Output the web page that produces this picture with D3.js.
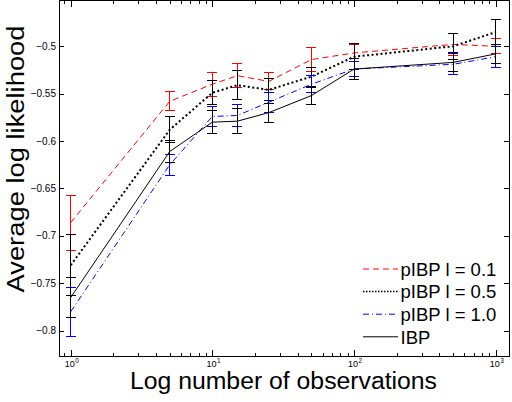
<!DOCTYPE html>
<html>
<head>
  <meta charset="UTF-8">
  <title>Average log likelihood vs observations</title>
  <style>
    body { margin: 0; background: #fff; overflow: hidden; }
    svg { font-family: "Liberation Sans", Arial, sans-serif; }
    .frame line, .frame rect { shape-rendering: crispEdges; }
  </style>
</head>
<body>
<svg id="chart"></svg>
<script src="https://d3js.org/d3.v7.min.js"></script>
<script>
// observations (x) and the four series
const obs = [1, 5, 10, 15, 25, 50, 100, 500, 1000];

const meanP01 = [-0.686, -0.558, -0.540, -0.531, -0.537, -0.514, -0.507, -0.498, -0.500];
const errP01  = [0.029, 0.010, 0.0125, 0.0125, 0.009, 0.0125, 0.009, 0.0115, 0.008];

const meanP05 = [-0.731, -0.588, -0.549, -0.541, -0.546, -0.532, -0.511, -0.500, -0.485];
const errP05  = [0.032, 0.014, 0.0125, 0.015, 0.0115, 0.010, 0.0135, 0.0135, 0.013];

const meanP10 = [-0.780, -0.625, -0.574, -0.573, -0.559, -0.540, -0.524, -0.519, -0.511];
const errP10  = [0.026, 0.011, 0.011, 0.0115, 0.0105, 0.009, 0.008, 0.011, 0.011];

const meanIBP = [-0.765, -0.611, -0.580, -0.579, -0.570, -0.552, -0.524, -0.517, -0.508];
const errIBP  = [0.021, 0.012, 0.012, 0.0135, 0.010, 0.009, 0.0115, 0.010, 0.010];

const seriesNames = ["pIBP l = 0.1", "pIBP l = 0.5", "pIBP l = 1.0", "IBP"];

// axis limits and ticks
const xLim = [0.827, 1245];
const yLim = [-0.8267, -0.4517];
const xMajor = [1, 10, 100, 1000];
const xExp = ["0", "1", "2", "3"];
const yTicks = [-0.8, -0.75, -0.7, -0.65, -0.6, -0.55, -0.5];

const width = 512, height = 402;
const box = { left: 59, right: 509.3, top: 0.5, bottom: 356 };

const svg = d3.select("#chart").attr("width", width).attr("height", height);

const x = d3.scaleLog().domain(xLim).range([box.left, box.right]);
const y = d3.scaleLinear().domain(yLim).range([box.bottom, box.top]);

const series = [
  { name: seriesNames[0], mean: meanP01, err: errP01, color: "#ff0000", bar: "#ff0000", dash: "6,4", w: 1 },
  { name: seriesNames[1], mean: meanP05, err: errP05, color: "#000000", bar: "#000000", dash: "2,2.5", w: 2 },
  { name: seriesNames[2], mean: meanP10, err: errP10, color: "#0000ff", bar: "#0000ff", dash: "6,3,1,3", w: 1 },
  { name: seriesNames[3], mean: meanIBP, err: errIBP, color: "#000000", bar: "#000000", dash: null, w: 1 }
];

// frame and ticks
const frame = svg.append("g").attr("class", "frame");
frame.append("rect")
  .attr("x", box.left).attr("y", box.top)
  .attr("width", box.right - box.left).attr("height", box.bottom - box.top)
  .attr("fill", "none").attr("stroke", "#000");

const minor = [];
[0.1, 1, 10, 100, 1000].forEach(d => {
  for (let k = 2; k <= 9; k++) {
    const v = d * k;
    if (v > xLim[0] && v < xLim[1]) minor.push(v);
  }
});

[[box.bottom, -1], [box.top, 1]].forEach(([yy, dir]) => {
  frame.selectAll(null).data(xMajor).enter().append("line")
    .attr("x1", d => Math.round(x(d)) + 0.5).attr("x2", d => Math.round(x(d)) + 0.5)
    .attr("y1", yy).attr("y2", yy + dir * 6).attr("stroke", "#000");
  frame.selectAll(null).data(minor).enter().append("line")
    .attr("x1", d => Math.round(x(d)) + 0.5).attr("x2", d => Math.round(x(d)) + 0.5)
    .attr("y1", yy).attr("y2", yy + dir * 3.5).attr("stroke", "#000");
});

[[box.left, 1], [box.right, -1]].forEach(([xx, dir]) => {
  frame.selectAll(null).data(yTicks).enter().append("line")
    .attr("x1", xx).attr("x2", xx + dir * 5)
    .attr("y1", d => Math.round(y(d)) + 0.5).attr("y2", d => Math.round(y(d)) + 0.5)
    .attr("stroke", "#000");
});

// tick labels
svg.append("g").selectAll("text").data(yTicks).enter().append("text")
  .attr("x", box.left - 3).attr("y", d => y(d) + 3.5)
  .attr("text-anchor", "end").attr("font-size", 10)
  .text(d => "\u2212" + String(Math.abs(d)));

const xl = svg.append("g").selectAll("g").data(xMajor).enter().append("g")
  .attr("transform", d => `translate(${x(d)},367)`);
xl.append("text").attr("x", -1).attr("text-anchor", "middle").attr("font-size", 9).text("10");
xl.append("text").attr("x", 4.5).attr("y", -4.5).attr("font-size", 6.5)
  .text((d, i) => xExp[i]);

// axis titles
svg.append("text").attr("x", 283.5).attr("y", 389)
  .attr("text-anchor", "middle").attr("font-size", 23)
  .attr("textLength", 307).attr("lengthAdjust", "spacingAndGlyphs")
  .text("Log number of observations");
svg.append("text")
  .attr("transform", "translate(24,159) rotate(-90)")
  .attr("text-anchor", "middle").attr("font-size", 23)
  .attr("textLength", 267).attr("lengthAdjust", "spacingAndGlyphs")
  .text("Average log likelihood");

// error bars and lines
const plot = svg.append("g");
const line = d3.line().x(d => x(d[0])).y(d => y(d[1]));
const capHalf = 5;

series.forEach(s => {
  const g = plot.append("g");
  const pts = obs.map((o, i) => [o, s.mean[i], s.err[i]]);
  const bars = g.selectAll(null).data(pts).enter().append("g")
    .attr("stroke", s.bar).attr("stroke-width", 1).attr("shape-rendering", "crispEdges");
  bars.append("line")
    .attr("x1", d => x(d[0])).attr("x2", d => x(d[0]))
    .attr("y1", d => y(d[1] - d[2])).attr("y2", d => y(d[1] + d[2]));
  bars.append("line")
    .attr("x1", d => x(d[0]) - capHalf).attr("x2", d => x(d[0]) + capHalf)
    .attr("y1", d => y(d[1] - d[2])).attr("y2", d => y(d[1] - d[2]));
  bars.append("line")
    .attr("x1", d => x(d[0]) - capHalf).attr("x2", d => x(d[0]) + capHalf)
    .attr("y1", d => y(d[1] + d[2])).attr("y2", d => y(d[1] + d[2]));
  g.append("path").datum(pts)
    .attr("d", line).attr("fill", "none")
    .attr("stroke", s.color).attr("stroke-width", s.w)
    .attr("stroke-dasharray", s.dash);
});

// legend
const legend = svg.append("g").attr("transform", "translate(363,269)");
const rows = legend.selectAll("g").data(series).enter().append("g")
  .attr("transform", (d, i) => `translate(0,${i * 22.6})`);
rows.append("line").attr("x1", 0).attr("x2", 35).attr("y1", 0).attr("y2", 0)
  .attr("stroke", d => d.color).attr("stroke-width", d => d.w === 2 ? 1.5 : 1)
  .attr("stroke-dasharray", d => d.w === 2 ? "1.5,1.5" : d.dash);
rows.append("text").attr("x", 37.5).attr("y", 6.8).attr("font-size", 18.5)
  .text(d => d.name);
</script>
</body>
</html>
